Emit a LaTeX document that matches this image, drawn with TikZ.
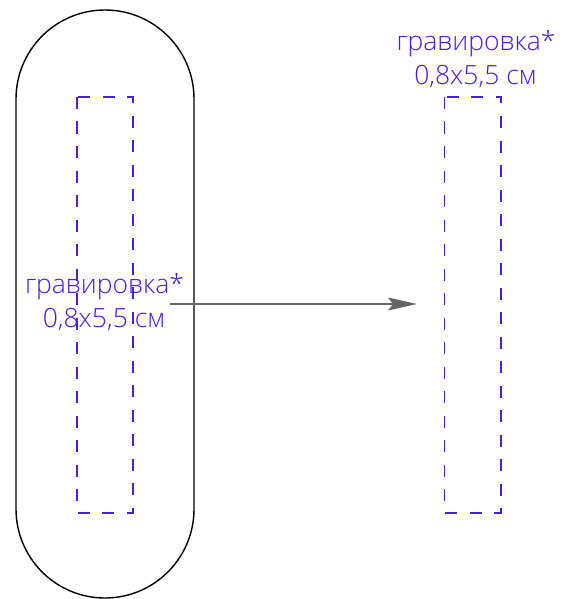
\documentclass[tikz,border=0pt]{standalone}
\usepackage{fontspec}
\setmainfont{Open Sans Light}
\usetikzlibrary{arrows.meta}
\definecolor{engr}{RGB}{75,30,222}
\definecolor{arrowgray}{RGB}{100,100,100}
\tikzset{
  engrave/.style={draw=engr, line width=1.9pt, dash pattern=on 12pt off 12.5pt},
  lbl/.style={text=engr, font=\fontsize{26.5}{30}\selectfont, inner sep=0pt, anchor=base},
  outline/.style={draw=black, line width=1.4pt},
  conn/.style={draw=arrowgray, line width=1.4pt, -{Stealth[length=29pt,width=13pt,inset=5pt]}}
}
\begin{document}
\begin{tikzpicture}[x=1pt,y=-1pt]
\useasboundingbox (0,0) rectangle (562,599);
% stadium outline
\draw[outline] (16,99) -- (16,509) arc[start angle=180,end angle=0,radius=89]
  -- (194,99) arc[start angle=0,end angle=-180,radius=89] -- cycle;
% engraving areas
\draw[engrave] (77,97) rectangle (133,513);
\draw[engrave] (444.5,97) rectangle (501,513);
% labels
\node[lbl] (l1a) at (104.5,293) {гравировка*};
\node[lbl] (l1b) at (104,327) {0,8x5,5 см};
\node[lbl] (l2a) at (476,51) {гравировка*};
\node[lbl] (l2b) at (475.5,85) {0,8x5,5 см};
% arrow
\coordinate (as) at (170,304);
\coordinate (ae) at (417,304);
\draw[conn] (as) -- (ae);
\end{tikzpicture}
\end{document}
